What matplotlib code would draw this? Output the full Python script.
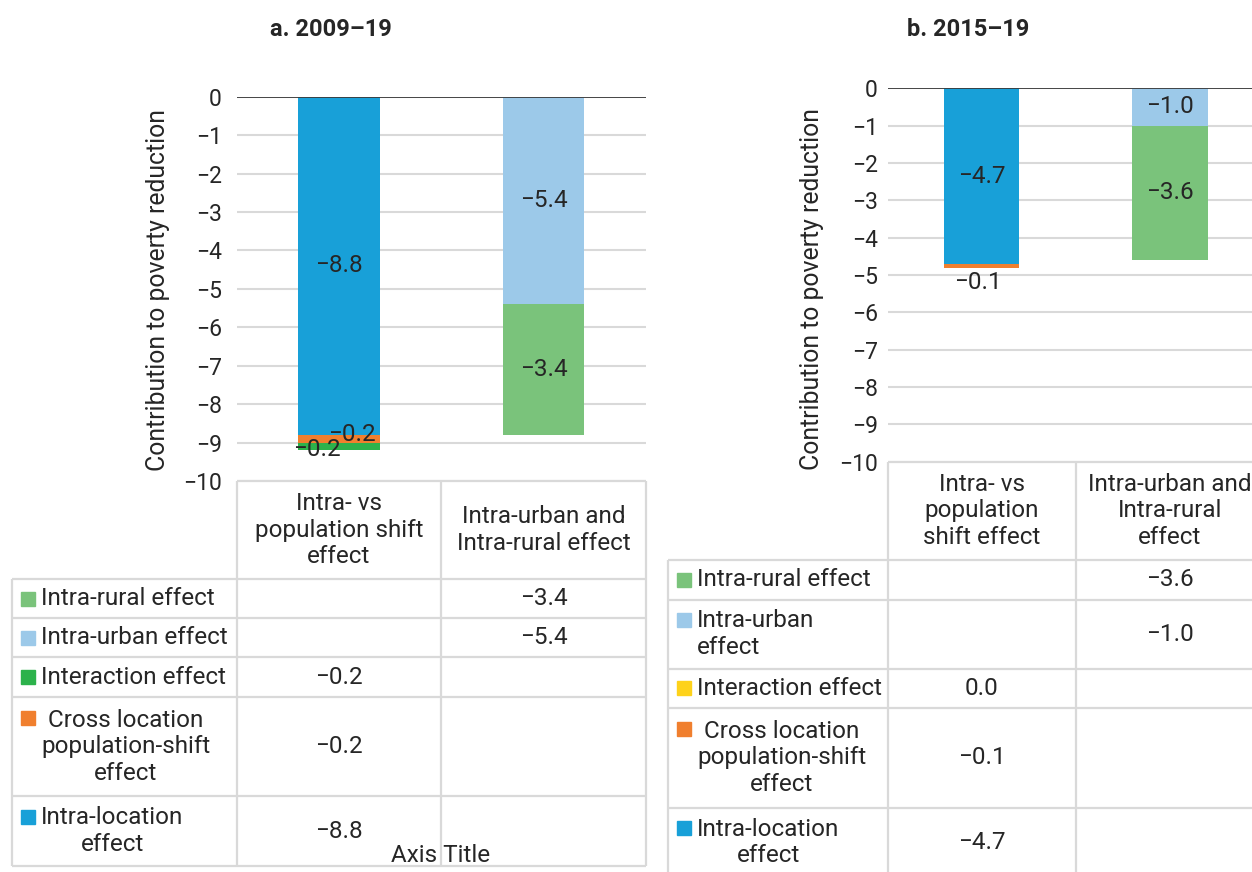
import matplotlib
matplotlib.use("Agg")
import matplotlib.pyplot as plt
from matplotlib import transforms
import numpy as np

W, H = 1252, 872

# ---- data -------------------------------------------------------------
titles = ["a. 2009–19", "b. 2015–19"]

categories_a = ["Intra- vs\npopulation shift\neffect", "Intra-urban and\nIntra-rural effect"]
categories_b = ["Intra- vs\npopulation\nshift effect", "Intra-urban and\nIntra-rural\neffect"]

# series in stacking order (first one sits at the top of the bar)
labels_a = ["Intra-location\neffect", "Cross location\npopulation-shift\neffect",
            "Interaction effect", "Intra-urban effect", "Intra-rural effect"]
labels_b = ["Intra-location\neffect", "Cross location\npopulation-shift\neffect",
            "Interaction effect", "Intra-urban\neffect", "Intra-rural effect"]

intra_location_a = [-8.8, None]
cross_location_a = [-0.2, None]
interaction_a = [-0.2, None]
intra_urban_a = [None, -5.4]
intra_rural_a = [None, -3.4]

intra_location_b = [-4.7, None]
cross_location_b = [-0.1, None]
interaction_b = [0.0, None]
intra_urban_b = [None, -1.0]
intra_rural_b = [None, -3.6]

y_ticks = list(range(-10, 1))

colors_a = ["#18a0d8", "#f07f2e", "#2cb24b", "#9cc9e9", "#7ac37b"]
colors_b = ["#18a0d8", "#f07f2e", "#fed21a", "#9cc9e9", "#7ac37b"]

# ---- style ------------------------------------------------------------
plt.rcParams["font.family"] = ["Roboto", "DejaVu Sans"]
FS_TICK = 16.5
FS = 17.5
LS = 1.19
TXT = "#262626"
GRID = "#d9d9d9"


def fmt(v):
    s = f"{abs(v):.1f}"
    return "−" + s if v < 0 else s


def px_axes(fig, x0, y0, x1, y1):
    return fig.add_axes([x0 / W, 1 - y1 / H, (x1 - x0) / W, (y1 - y0) / H])


def draw_panel(fig, box, series, labels, label_align, colors, cats, title, title_xy,
               ylabel_xy, tick_pad, table_left, row_heights, label_offsets):
    x0, y0, x1, y1 = box
    ax = px_axes(fig, x0, y0, x1, y1)
    ax.set_xlim(-0.5, 1.5)
    ax.set_ylim(-10, 0)
    for s in ax.spines.values():
        s.set_visible(False)
    ax.set_xticks([])
    ax.set_yticks(y_ticks)
    ax.tick_params(axis="y", length=0, pad=tick_pad, labelsize=FS_TICK, labelcolor=TXT)
    ax.yaxis.grid(True, color=GRID, lw=1.5)
    ax.set_axisbelow(True)
    ax.axhline(0, color="#3a3a3a", lw=1.3, zorder=3)

    xs = np.arange(len(cats))
    bottom = np.zeros(len(cats))
    for i, (vals, c) in enumerate(zip(series, colors)):
        v = np.array([0.0 if x is None else x for x in vals])
        ax.bar(xs, v, 0.40, bottom=bottom, color=c, zorder=2, linewidth=0)
        for j, val in enumerate(vals):
            if val is None or val == 0:
                continue
            dx, dy = label_offsets.get((i, j), (0, 0))
            ax.annotate(fmt(val), (xs[j], bottom[j] + val / 2), xytext=(dx, dy),
                        textcoords="offset pixels", ha="center", va="center",
                        fontsize=FS, color=TXT, zorder=4)
        bottom += v

    fig.text(title_xy[0] / W, 1 - title_xy[1] / H, title, ha="center", va="center",
             fontsize=17, fontweight="bold", color=TXT)
    fig.text(ylabel_xy[0] / W, 1 - ylabel_xy[1] / H, "Contribution to poverty reduction",
             rotation=90, ha="center", va="center", fontsize=17.8, color=TXT)

    # ---- data table below the bars ----
    unit = (x1 - x0) / 2.0
    left = -0.5 - (x0 - table_left) / unit
    total = float(sum(row_heights))
    tax = px_axes(fig, table_left, y1, x1, y1 + total)
    tax.set_xlim(left, 1.5)
    tax.set_ylim(total, 0)
    tax.axis("off")
    edges = np.concatenate([[0], np.cumsum(row_heights)])
    lk = dict(color=GRID, lw=1.6, clip_on=False)
    tax.hlines(0, -0.5, 1.5, **lk)
    for e in edges[1:]:
        tax.hlines(e, left, 1.5, **lk)
    tax.vlines(left, edges[1], edges[-1], **lk)
    for xv in (-0.5, 0.5, 1.5):
        tax.vlines(xv, 0, edges[-1], **lk)

    for j, cat in enumerate(cats):
        tax.text(j, row_heights[0] / 2, cat, ha="center", va="center",
                 multialignment="center", fontsize=FS, color=TXT, linespacing=LS)

    line_px = 28.5
    order = list(range(len(series)))[::-1]
    for r, k in enumerate(order):
        yc = edges[r + 1] + row_heights[r + 1] / 2
        for j, val in enumerate(series[k]):
            if val is not None:
                tax.text(j, yc, fmt(val), ha="center", va="center",
                         fontsize=FS, color=TXT)
        lab = labels[k]
        n = lab.count("\n") + 1
        tax.annotate(lab, (left, yc), xytext=(29, 0), textcoords="offset pixels",
                     ha="left", va="center", multialignment=label_align[k],
                     fontsize=FS, color=TXT, linespacing=LS)
        tr = transforms.offset_copy(tax.transData, fig=fig, x=15.7,
                                    y=(n - 1) / 2 * line_px, units="dots")
        tax.plot([left], [yc], marker="s", ms=9.5, color=colors[k],
                 transform=tr, clip_on=False, linestyle="none")
    return ax, tax


fig = plt.figure(figsize=(W / 100, H / 100), dpi=100)
fig.patch.set_facecolor("white")

series_a = [intra_location_a, cross_location_a, interaction_a, intra_urban_a, intra_rural_a]
series_b = [intra_location_b, cross_location_b, interaction_b, intra_urban_b, intra_rural_b]

draw_panel(fig, (236.7, 96.7, 645.7, 481.1), series_a, labels_a,
           ["center"] * 5, colors_a,
           categories_a, titles[0], (331, 29), (158, 290), 14.7 * 0.72, 12,
           [98, 39, 39, 40, 99, 70],
           {(1, 0): (13, 4), (2, 0): (-22, -3)})
fig.text(441 / W, 1 - 855 / H, "Axis Title", ha="center", va="center",
         fontsize=FS, color=TXT)

draw_panel(fig, (887.7, 88.3, 1264, 461.7), series_b, labels_b,
           ["center", "center", "center", "left", "center"], colors_b,
           categories_b, titles[1], (968, 29), (812, 289), 9.7 * 0.72, 668.3,
           [98, 40, 69, 39, 100, 70],
           {(1, 0): (-4, -17)})

fig.savefig("out.png", dpi=100, facecolor="white")
